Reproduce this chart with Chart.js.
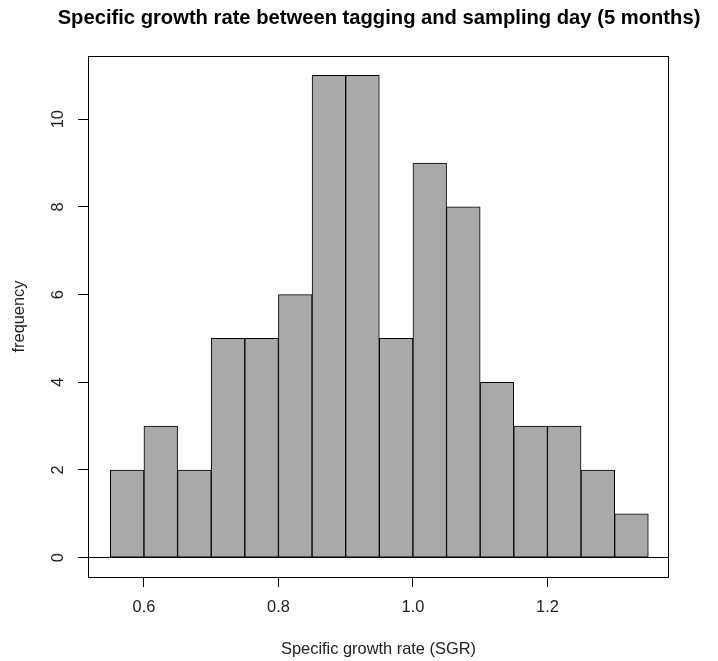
<!DOCTYPE html>
<html>
<head>
<meta charset="utf-8">
<script src="https://cdn.jsdelivr.net/npm/chart.js@4/dist/chart.umd.min.js"></script>
<style>
  html, body { margin: 0; padding: 0; background: #ffffff; }
  #wrap { width: 718px; height: 661px; }
</style>
</head>
<body>
<div id="wrap"><canvas id="hist" width="718" height="661"></canvas></div>
<script>
// Histogram bins (SGR) and observed counts per bin
const binEdges = [0.55, 0.60, 0.65, 0.70, 0.75, 0.80, 0.85, 0.90, 0.95, 1.00, 1.05, 1.10, 1.15, 1.20, 1.25, 1.30, 1.35];
const counts   = [2, 3, 2, 5, 5, 6, 11, 11, 5, 9, 8, 4, 3, 3, 2, 1];

// Axis ticks
const xTicks = [0.6, 0.8, 1.0, 1.2];
const xTickLabels = ['0.6', '0.8', '1.0', '1.2'];
const yTicks = [0, 2, 4, 6, 8, 10];

const titleText = 'Specific growth rate between tagging and sampling day (5 months)';
const xTitle = 'Specific growth rate (SGR)';
const yTitle = 'frequency';

// one bar per bin, placed at the bin midpoint
const barData = counts.map((c, i) => ({ x: (binEdges[i] + binEdges[i + 1]) / 2, y: c }));

const FONT = "'Liberation Sans', Arial, sans-serif";

// frame around the plotting region
const frame = {
  id: 'frame',
  afterDatasetsDraw(chart) {
    const { ctx, chartArea: a } = chart;
    ctx.save();
    ctx.strokeStyle = '#000';
    ctx.lineWidth = 1;
    ctx.strokeRect(Math.round(a.left) + 0.5, Math.round(a.top) + 0.5,
                   Math.round(a.right - a.left) - 1, Math.round(a.bottom - a.top));
    ctx.restore();
  }
};

// main title, centred over the plotting region (may run wider than it)
const mainTitle = {
  id: 'mainTitle',
  afterDraw(chart) {
    const { ctx, chartArea: a } = chart;
    ctx.save();
    ctx.fillStyle = '#000';
    ctx.font = 'bold 20.2px ' + FONT;
    ctx.textAlign = 'center';
    ctx.textBaseline = 'middle';
    ctx.fillText(titleText, (a.left + a.right) / 2 + 0.5, 18);
    ctx.restore();
  }
};

new Chart(document.getElementById('hist'), {
  type: 'bar',
  data: {
    datasets: [{
      data: barData,
      backgroundColor: '#a9a9a9',
      borderColor: '#000000',
      borderWidth: 1,
      borderSkipped: false,
      barPercentage: 1.0,
      categoryPercentage: 1.0
    }]
  },
  options: {
    responsive: false,
    animation: false,
    devicePixelRatio: 1,
    layout: { padding: { left: 0, right: 49, top: 56, bottom: 0 } },
    plugins: {
      legend: { display: false },
      tooltip: { enabled: false },
      title: { display: false }
    },
    scales: {
      x: {
        type: 'linear',
        min: 0.5168,
        max: 1.3808,
        offset: false,
        afterBuildTicks: s => { s.ticks = xTicks.map(v => ({ value: v })); },
        afterFit: s => { s.height = 84; },
        ticks: {
          color: '#222',
          font: { family: FONT, size: 16.4 },
          padding: 11,
          maxRotation: 0,
          callback: (v) => xTickLabels[xTicks.indexOf(v)] ?? ''
        },
        grid: {
          offset: false,
          drawOnChartArea: false,
          drawTicks: true,
          tickLength: 10,
          tickColor: '#000',
          color: '#000'
        },
        border: { display: false },
        title: {
          display: true,
          text: xTitle,
          color: '#222',
          font: { family: FONT, size: 16.4, lineHeight: 1.2 },
          padding: { top: 0, bottom: 2 }
        }
      },
      y: {
        type: 'linear',
        min: -0.44,
        max: 11.44,
        grace: 0,
        afterBuildTicks: s => { s.ticks = yTicks.map(v => ({ value: v })); },
        afterFit: s => { s.width = 88; },
        ticks: {
          color: '#222',
          font: { family: FONT, size: 16.4 },
          padding: 10,
          minRotation: 90,
          maxRotation: 90,
          crossAlign: 'center'
        },
        grid: {
          offset: false,
          drawOnChartArea: true,
          drawTicks: true,
          tickLength: 10,
          tickColor: '#000',
          color: ctx => (ctx.tick && ctx.tick.value === 0 ? '#000' : 'rgba(0,0,0,0)')
        },
        border: { display: false },
        title: {
          display: true,
          text: yTitle,
          color: '#222',
          font: { family: FONT, size: 16.4, lineHeight: 1.2 },
          padding: { top: 10, bottom: 0 }
        }
      }
    }
  },
  plugins: [frame, mainTitle]
});
</script>
</body>
</html>
